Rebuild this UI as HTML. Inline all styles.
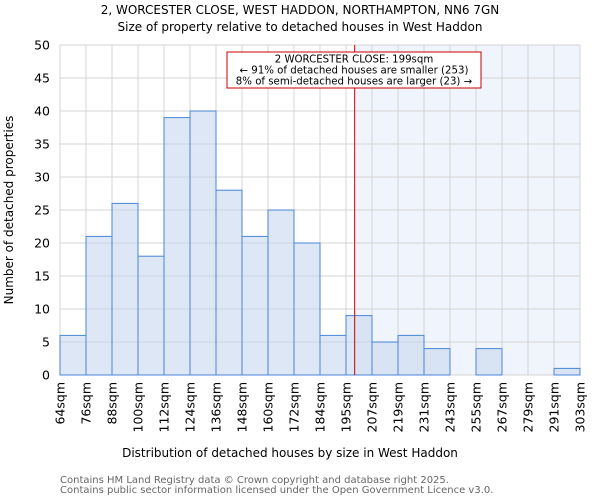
<!DOCTYPE html>
<html><head><meta charset="utf-8"><style>body{margin:0;background:#fff}svg{display:block;font-family:"DejaVu Sans","Liberation Sans",sans-serif}</style></head>
<body>
<svg id="chart" width="600" height="500" xmlns="http://www.w3.org/2000/svg">
<text x="300" y="14" font-size="12" text-anchor="middle">2, WORCESTER CLOSE, WEST HADDON, NORTHAMPTON, NN6 7GN</text>
<text x="300" y="31" font-size="12" text-anchor="middle">Size of property relative to detached houses in West Haddon</text>
<g id="plot"></g>
<text x="290" y="457" font-size="12" text-anchor="middle">Distribution of detached houses by size in West Haddon</text>
<text transform="translate(13,210) rotate(-90)" font-size="12" text-anchor="middle">Number of detached properties</text>
<text x="60" y="483" font-size="10" fill="#666">Contains HM Land Registry data © Crown copyright and database right 2025.</text>
<text x="60" y="493" font-size="10" fill="#666">Contains public sector information licensed under the Open Government Licence v3.0.</text>
</svg>
<script>
const binEdges=[64,76,88,100,112,124,136,148,160,172,184,195,207,219,231,243,255,267,279,291,303];
const counts=[6,21,26,18,39,40,28,21,25,20,6,9,5,6,4,0,4,0,0,1];
const yTicks=[0,5,10,15,20,25,30,35,40,45,50];
const propertySize=199;
const NS="http://www.w3.org/2000/svg";
const X0=60,X1=580,Y0=375,Y1=45,YMAX=50;
const nb=counts.length;
function xIdx(i){return X0+(X1-X0)*i/nb;}
function xVal(v){let i=0;while(i<nb-1&&v>binEdges[i+1])i++;return xIdx(i)+(v-binEdges[i])/(binEdges[i+1]-binEdges[i])*(X1-X0)/nb;}
function y(v){return Y0-(Y0-Y1)*v/YMAX;}
const g=document.getElementById('plot');
function mk(t,a){const e=document.createElementNS(NS,t);for(const k in a)e.setAttribute(k,a[k]);g.appendChild(e);return e;}
const mx=xVal(propertySize);
let sh=mk('rect',{x:mx,y:Y1,width:X1-mx,height:Y0-Y1,fill:'#f0f4fc'});


for(let i=0;i<=nb;i++){let l=mk('line',{x1:xIdx(i),x2:xIdx(i),y1:Y1,y2:Y0,stroke:'#d4d4d4'});

}
yTicks.forEach(t=>{let l=mk('line',{x1:X0,x2:X1,y1:y(t),y2:y(t),stroke:'#d4d4d4'});


let tx=mk('text',{x:X0-10,y:y(t)+4.5,'font-size':12.5,'text-anchor':'end'});tx.textContent=t;

});
counts.forEach((c,i)=>{let r=mk('rect',{x:xIdx(i),y:y(c),width:(X1-X0)/nb,height:Y0-y(c),fill:'rgba(200,215,238,0.6)',stroke:'#4a86d8','stroke-width':1});

});
binEdges.forEach((b,i)=>{let tx=mk('text',{transform:`translate(${xIdx(i)+4.5},382) rotate(-90)`,'font-size':12.5,'text-anchor':'end'});tx.textContent=b+'sqm';

});
let ml=mk('line',{x1:mx,x2:mx,y1:Y1,y2:Y0,stroke:'#cc0000','stroke-width':1});


let bx=mk('rect',{x:227,y:52,width:254,height:36,fill:'#fff',stroke:'#cc0000'});


['2 WORCESTER CLOSE: 199sqm','← 91% of detached houses are smaller (253)','8% of semi-detached houses are larger (23) →'].forEach((s,i)=>{let t=mk('text',{x:354,y:62.5+i*11,'font-size':10.2,'text-anchor':'middle'});t.textContent=s;

});
</script>
</body></html>
